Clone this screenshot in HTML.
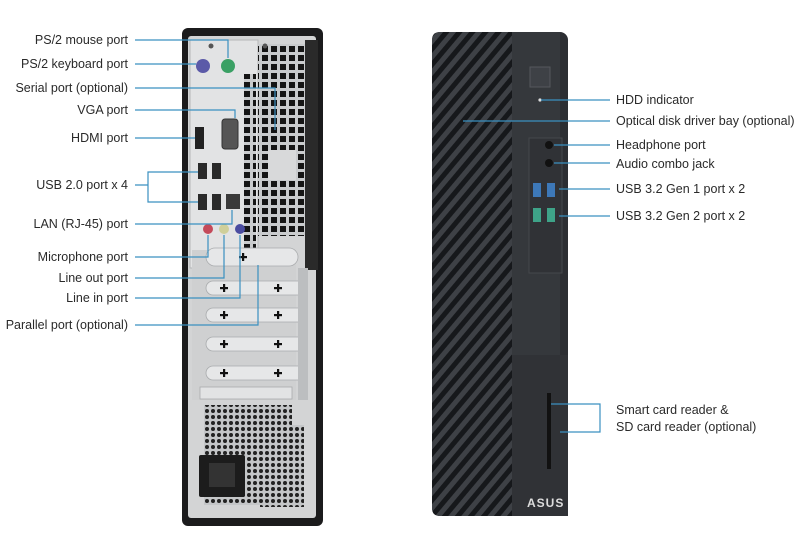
<!DOCTYPE html>
<html><head><style>
body{margin:0;background:#fff;}
svg{display:block}
text{font-family:"Liberation Sans",sans-serif;font-size:12.5px;fill:#2a2a2a}
</style></head><body>
<svg width="800" height="543" viewBox="0 0 800 543" xmlns="http://www.w3.org/2000/svg">
<defs>
<pattern id="st" width="10" height="10" patternUnits="userSpaceOnUse" patternTransform="rotate(40)">
<rect width="10" height="10" fill="#3e4146"/><rect width="5" height="10" fill="#16181b"/>
</pattern>
<pattern id="vent" width="9" height="9" patternUnits="userSpaceOnUse">
<rect width="9" height="9" fill="#c9cbcd"/><rect x="1" y="1" width="6" height="6" fill="#151515"/>
</pattern>
<pattern id="hex" width="6" height="6" patternUnits="userSpaceOnUse">
<rect width="6" height="6" fill="#c4c6c8"/><circle cx="3" cy="3" r="2" fill="#222"/>
</pattern>
<g id="cr"><rect x="-4" y="-1" width="8" height="2.2" fill="#111"/><rect x="-1" y="-4" width="2.2" height="8" fill="#111"/></g>
</defs>
<rect width="800" height="543" fill="#fff"/>
<!-- REAR -->
<rect x="182" y="28" width="141" height="498" rx="6" fill="#1b1b1c"/>
<rect x="188" y="36" width="128" height="482" rx="3" fill="#d3d4d5"/>
<rect x="190" y="40" width="68" height="228" fill="#e2e3e4" stroke="#b5b7b9"/>
<rect x="258" y="44" width="48" height="192" fill="url(#vent)"/>
<rect x="268" y="150" width="28" height="30" fill="#d8d9da"/>
<rect x="244" y="74" width="12" height="180" fill="url(#vent)"/>
<rect x="305" y="40" width="13" height="230" fill="#2a2a2a"/>
<circle cx="211" cy="46" r="2.5" fill="#555"/><circle cx="265" cy="46" r="2.5" fill="#555"/>
<circle cx="203" cy="66" r="7" fill="#5b5aa8"/><circle cx="228" cy="66" r="7" fill="#3aa064"/>
<rect x="195" y="127" width="9" height="22" fill="#222"/>
<rect x="222" y="119" width="16" height="30" rx="3" fill="#555" stroke="#333"/>
<rect x="198" y="163" width="9" height="16" fill="#2a2a2a"/><rect x="212" y="163" width="9" height="16" fill="#2a2a2a"/>
<rect x="198" y="194" width="9" height="16" fill="#2a2a2a"/><rect x="212" y="194" width="9" height="16" fill="#2a2a2a"/>
<rect x="226" y="194" width="14" height="15" fill="#3a3a3a"/>
<circle cx="208" cy="229" r="5" fill="#c44a5a"/><circle cx="224" cy="229" r="5" fill="#cfcf9a"/><circle cx="240" cy="229" r="5" fill="#4a4ca0"/>
<!-- slots -->
<rect x="192" y="250" width="104" height="150" fill="#cfd0d1"/>
<g fill="#e6e7e8" stroke="#a9abad" stroke-width="0.8">
<rect x="206" y="248" width="92" height="18" rx="9"/>
<rect x="206" y="281" width="100" height="14" rx="7"/>
<rect x="206" y="308" width="100" height="14" rx="7"/>
<rect x="206" y="337" width="100" height="14" rx="7"/>
<rect x="206" y="366" width="100" height="14" rx="7"/>
<rect x="200" y="387" width="92" height="12" fill="#e2e3e4"/>
</g>
<use href="#cr" x="243" y="257"/>
<use href="#cr" x="224" y="288"/><use href="#cr" x="278" y="288"/>
<use href="#cr" x="224" y="315"/><use href="#cr" x="278" y="315"/>
<use href="#cr" x="224" y="344"/><use href="#cr" x="278" y="344"/>
<use href="#cr" x="224" y="373"/><use href="#cr" x="278" y="373"/>
<rect x="298" y="268" width="10" height="132" fill="#bcbec0"/>
<rect x="204" y="405" width="88" height="100" fill="url(#hex)"/>
<rect x="260" y="425" width="44" height="82" fill="url(#hex)"/>
<rect x="199" y="455" width="46" height="42" rx="2" fill="#1c1c1c"/>
<rect x="209" y="463" width="26" height="24" fill="#333"/>
<!-- FRONT -->
<rect x="432" y="32" width="136" height="484" rx="8" fill="#2c2e32"/>
<path d="M440 32 H512 V516 H440 Q432 516 432 508 V40 Q432 32 440 32Z" fill="url(#st)"/>
<rect x="512" y="32" width="48" height="484" fill="#35383c"/>
<rect x="530" y="67" width="20" height="20" fill="#3e4146" stroke="#55585d"/>
<circle cx="540" cy="100" r="1.6" fill="#ddd"/>
<rect x="529" y="138" width="33" height="135" fill="#303236" stroke="#45484c"/>
<circle cx="549" cy="145" r="4" fill="#111"/><circle cx="549" cy="163" r="4" fill="#111"/>
<rect x="533" y="183" width="8" height="14" fill="#3d78b8"/><rect x="547" y="183" width="8" height="14" fill="#3d78b8"/>
<rect x="533" y="208" width="8" height="14" fill="#3ea388"/><rect x="547" y="208" width="8" height="14" fill="#3ea388"/>
<rect x="512" y="355" width="56" height="161" fill="#303236"/>
<rect x="547" y="393" width="4" height="76" fill="#111"/>
<text x="527" y="507" style="font-size:12px;fill:#ddd;font-weight:bold;letter-spacing:1px">ASUS</text>
<!-- leader lines -->
<g stroke="#3a90c0" stroke-width="1.2" fill="none">
<path d="M135 40 H228 V58"/><path d="M135 64 H196"/><path d="M135 88 H275 V130"/>
<path d="M135 110 H235 V118"/><path d="M135 138 H195"/>
<path d="M135 185 H148 V172 H198 M148 185 V202 H198"/>
<path d="M135 224 H232 V210"/><path d="M135 257 H208 V235"/>
<path d="M135 278 H224 V235"/><path d="M135 298 H240 V235"/><path d="M135 325 H258 V265"/>
<path d="M541 100 H610"/><path d="M463 121 H610"/><path d="M554 145 H610"/><path d="M554 163 H610"/>
<path d="M559 189 H610"/><path d="M559 216 H610"/>
<path d="M551 404 H600 V432 H560"/>
</g>
<g text-anchor="end">
<text x="128" y="44">PS/2 mouse port</text><text x="128" y="68">PS/2 keyboard port</text>
<text x="128" y="92">Serial port (optional)</text><text x="128" y="114">VGA port</text>
<text x="128" y="142">HDMI port</text><text x="128" y="189">USB 2.0 port x 4</text>
<text x="128" y="228">LAN (RJ-45) port</text><text x="128" y="261">Microphone port</text>
<text x="128" y="282">Line out port</text><text x="128" y="302">Line in port</text>
<text x="128" y="329">Parallel port (optional)</text>
</g>
<text x="616" y="104">HDD indicator</text><text x="616" y="125">Optical disk driver bay (optional)</text>
<text x="616" y="149">Headphone port</text><text x="616" y="168">Audio combo jack</text>
<text x="616" y="193">USB 3.2 Gen 1 port x 2</text><text x="616" y="220">USB 3.2 Gen 2 port x 2</text>
<text x="616" y="414">Smart card reader &amp;</text><text x="616" y="431">SD card reader (optional)</text>
</svg>
</body></html>
